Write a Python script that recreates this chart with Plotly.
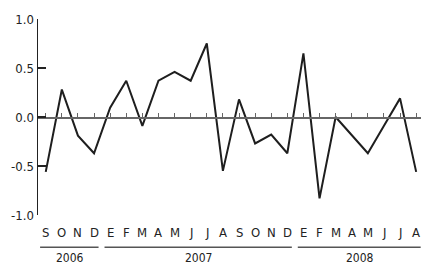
import plotly.graph_objects as go

months = ["S", "O", "N", "D",
          "E", "F", "M", "A", "M", "J", "J", "A", "S", "O", "N", "D",
          "E", "F", "M", "A", "M", "J", "J", "A"]
values = [-0.56, 0.28, -0.19, -0.37,
          0.095, 0.37, -0.09, 0.37, 0.46, 0.37, 0.75, -0.55, 0.18, -0.27, -0.18, -0.37,
          0.65, -0.83, 0.0, -0.18, -0.37, -0.09, 0.19, -0.56]
years = ["2006", "2007", "2008"]
year_start = [0, 4, 16]
year_end = [3, 15, 23]
ytick_vals = [1.0, 0.5, 0.0, -0.5, -1.0]
ytick_text = ["1.0", "0.5", "0.0", "-0.5", "-1.0"]

FONT = "Liberation Sans Narrow, DejaVu Sans Condensed, Arial Narrow, sans-serif"
x = list(range(len(values)))

fig = go.Figure()
fig.add_trace(go.Scatter(x=x, y=values, mode="lines",
                         line=dict(color="#1e1e1e", width=2), hoverinfo="skip"))

annotations = []
for i, m in enumerate(months):
    annotations.append(dict(x=i, y=0, xref="x", yref="paper", text=m, showarrow=False,
                            yanchor="middle", yshift=-17.5,
                            font=dict(family=FONT, size=13, color="#222")))
shapes = []
for yr, s, e in zip(years, year_start, year_end):
    shapes.append(dict(type="line", xref="x", yref="paper", x0=s - 0.35, x1=e + 0.28,
                       y0=-0.165, y1=-0.165, line=dict(color="#555", width=1.5)))
    annotations.append(dict(x=(s + e) / 2, y=0, xref="x", yref="paper", text=yr,
                            showarrow=False, yanchor="middle", yshift=-43,
                            font=dict(family=FONT, size=12, color="#222")))

fig.update_layout(
    width=421, height=265,
    margin=dict(l=38, r=0, t=19, b=50, autoexpand=False),
    paper_bgcolor="white", plot_bgcolor="white",
    showlegend=False,
    annotations=annotations, shapes=shapes,
    xaxis=dict(range=[-0.48, 23.3], anchor="free", position=0.5, side="top",
               showline=True, linecolor="#666", linewidth=1.5,
               ticks="outside", ticklen=4, tickcolor="#666", tickwidth=1,
               tickvals=x, showticklabels=False, showgrid=False, zeroline=False),
    yaxis=dict(range=[-1, 1], showline=True, linecolor="#222", linewidth=1.5,
               ticks="inside", ticklen=8, tickcolor="#222", tickwidth=1.5,
               tickvals=ytick_vals, ticktext=ytick_text,
               tickfont=dict(family=FONT, size=13, color="#222"),
               showgrid=False, zeroline=False),
)
fig.write_html("out.html", config={"displayModeBar": False, "staticPlot": True},
               post_script="document.body.style.margin='0';document.body.style.overflow='hidden';")
